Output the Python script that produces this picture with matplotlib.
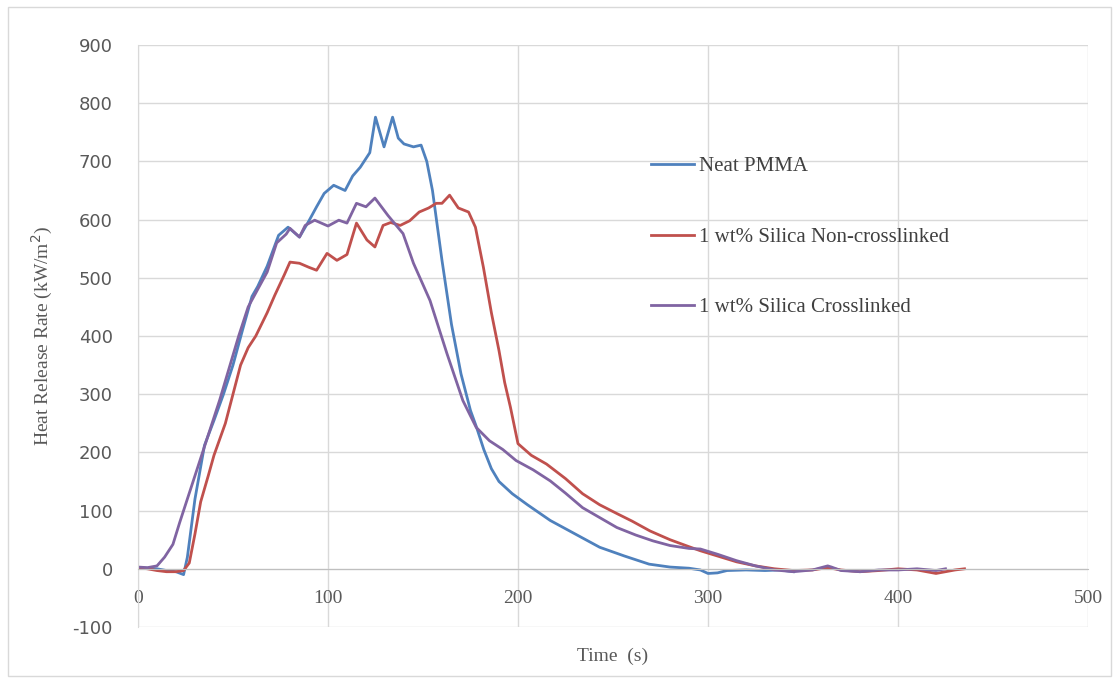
import matplotlib.pyplot as plt
from matplotlib.patches import Rectangle

plt.rcParams['axes.unicode_minus'] = False

# Neat PMMA
t_neat = [0, 5, 10, 15, 20, 24, 26, 30, 35, 40, 45, 50, 55, 60, 63, 68, 74, 79, 85, 90,
          94, 98, 103, 109, 113, 117, 120, 122, 125, 129.5, 134, 137, 140, 145, 149, 152,
          155, 160, 165, 170, 175, 178, 182, 186, 190, 197, 205, 217, 230, 243, 256, 269,
          280, 290, 296, 300, 305, 310, 320, 330, 338, 345]
hrr_neat = [2, 1, 0, -3, -5, -10, 20, 120, 212, 255, 300, 350, 410, 468, 485, 520, 573, 587, 570, 598,
            622, 645, 659, 650, 675, 690, 705, 715, 776, 725, 776, 740, 730, 725, 728, 700,
            650, 530, 420, 335, 272, 245, 205, 172, 150, 129, 110, 83, 60, 37, 22, 8,
            3, 1, -2, -8, -7, -3, -2, -3, -2, -5]

# 1 wt% Silica Non-crosslinked
t_noncross = [0, 5, 10, 15, 20, 24, 27, 30, 33, 37, 40, 46, 50, 54, 58, 62, 68, 72, 77, 80,
              85, 90, 94, 99.5, 104.7, 110, 115, 120.5, 124.7, 129, 133, 138, 143, 148, 153,
              157, 160, 164, 168.6, 174, 177.6, 181.8, 186, 190, 193, 196, 200, 207, 215, 225,
              234, 243, 252, 260, 269.5, 280, 290, 296, 305, 315, 325, 335, 345, 355, 363, 370,
              380, 390, 400, 410, 420, 425, 430, 435]
hrr_noncross = [2, 0, -3, -5, -5, -3, 10, 60, 115, 160, 195, 250, 300, 350, 380, 400, 440, 470, 505, 527,
                525, 518, 513, 542, 530, 540, 594, 565, 553, 590, 595, 590, 598, 613, 620,
                628, 628, 642, 620, 613, 587, 518, 440, 375, 320, 278, 215, 195, 180, 155,
                129, 110, 95, 82, 65, 50, 38, 31, 22, 12, 5, 0, -3, -2, 2, -2,
                -5, -3, 0, -2, -8, -5, -2, 0]

# 1 wt% Silica Crosslinked
t_cross = [0, 5, 10, 14, 18.4, 22, 27, 33, 38, 43, 48, 53, 58, 63, 68, 73, 78, 80, 85, 88,
           93, 100, 105.7, 110, 115, 120, 124.7, 131.6, 139.5, 145, 153.7, 162.6, 171, 178, 185,
           192, 199, 208, 217, 225, 234, 243, 252, 262, 271, 280, 290, 296, 305, 315, 325,
           335, 345, 355, 363, 365, 370, 380, 390, 400, 410, 420, 425]
hrr_cross = [3, 2, 5, 20, 42, 80, 130, 190, 240, 290, 345, 400, 450, 480, 510, 560, 575, 585, 570, 590,
             599, 589, 599, 594, 628, 622, 637, 607, 576, 525, 461, 370, 289, 243, 220,
             205, 186, 170, 151, 130, 105, 88, 71, 58, 48, 40, 35, 34, 25, 14, 5,
             -2, -5, -2, 5, 3, -3, -5, -2, -2, 0, -3, 0]

labels = ["Neat PMMA", "1 wt% Silica Non-crosslinked", "1 wt% Silica Crosslinked"]
colors = ["#4F81BD", "#C0504D", "#8064A2"]

fig = plt.figure(figsize=(11.19, 6.81), dpi=100)
ax = fig.add_axes([0.1233, 0.0793, 0.8490, 0.8546])

series = [(t_neat, hrr_neat), (t_noncross, hrr_noncross), (t_cross, hrr_cross)]
for (t, h), lab, c in zip(series, labels, colors):
    ax.plot(t, h, color=c, lw=2.0, label=lab, solid_joinstyle='round')

ax.set_xlim(0, 500)
ax.set_ylim(-100, 900)
ax.set_xticks(range(0, 501, 100))
ax.set_yticks(range(-100, 901, 100))
ax.grid(True, color="#D9D9D9", lw=1.0)
ax.set_axisbelow(True)

for s in ["top", "right"]:
    ax.spines[s].set_visible(False)
ax.spines["bottom"].set_position(("data", 0))
ax.spines["bottom"].set_color("#BFBFBF")
ax.spines["left"].set_color("#D9D9D9")

ax.tick_params(axis="x", length=0, pad=15, labelsize=14, labelcolor="#595959")
ax.tick_params(axis="y", length=0, pad=18, labelsize=13, labelcolor="#595959")
for lbl in ax.get_xticklabels():
    lbl.set_family("Liberation Serif")
for lbl in ax.get_yticklabels():
    lbl.set_family("DejaVu Sans")

ax.set_ylabel("Heat Release Rate (kW/m$^2$)", fontsize=14, family="Liberation Serif",
              color="#595959")
ax.yaxis.set_label_coords(-0.087, 0.5)
ax.set_xlabel("Time  (s)", fontsize=14, family="Liberation Serif", color="#595959")
ax.xaxis.set_label_coords(0.5, -0.035)

leg = ax.legend(loc="center left", bbox_to_anchor=(0.52, 0.670), frameon=False,
                prop={"family": "Liberation Serif", "size": 15}, handlelength=2.1,
                handletextpad=0.2, labelspacing=2.45, labelcolor="#404040")

fig.patches.append(Rectangle((0.007, 0.008), 0.986, 0.981, transform=fig.transFigure,
                             fill=False, edgecolor="#D9D9D9", lw=1.0))

fig.savefig("out.png", dpi=100)
